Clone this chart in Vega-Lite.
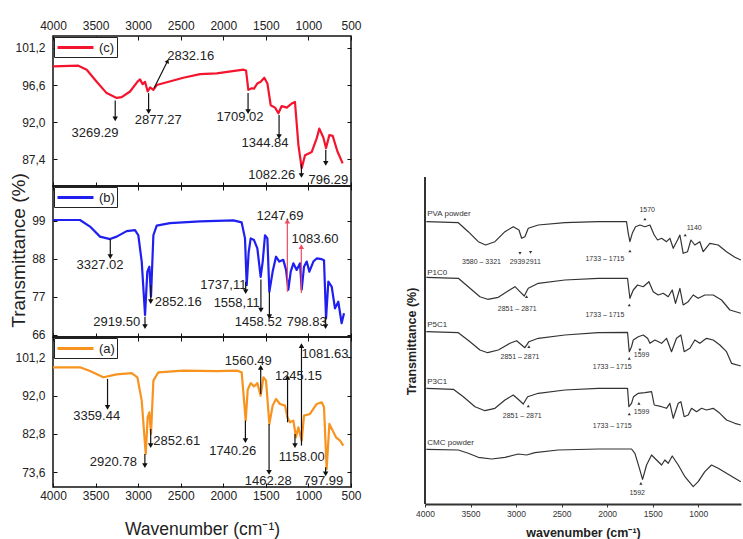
{
  "$schema": "https://vega.github.io/schema/vega-lite/v6.json",
  "padding": {"left": 8, "top": 18, "right": 0, "bottom": 0},
  "background": "white",
  "config": {
    "font": "Liberation Sans",
    "view": {"stroke": "#111", "strokeWidth": 1.5},
    "axis": {"grid": false, "labelFlush": false, "labelOverlap": false, "labelFont": "Liberation Sans", "titleFont": "Liberation Sans"}
  },
  "datasets": {
    "sp": [
      {"p":"c","wn":4000,"t":98.9},{"p":"c","wn":3702,"t":99.0},{"p":"c","wn":3604,"t":98.5},{"p":"c","wn":3487,"t":97.0},{"p":"c","wn":3370,"t":95.6},{"p":"c","wn":3252,"t":95.0},{"p":"c","wn":3193,"t":95.1},{"p":"c","wn":3095,"t":95.8},{"p":"c","wn":3009,"t":97.0},{"p":"c","wn":2978,"t":97.3},{"p":"c","wn":2947,"t":96.7},{"p":"c","wn":2919,"t":97.0},{"p":"c","wn":2888,"t":95.8},{"p":"c","wn":2860,"t":96.3},{"p":"c","wn":2821,"t":96.0},{"p":"c","wn":2782,"t":96.6},{"p":"c","wn":2469,"t":97.5},{"p":"c","wn":2273,"t":97.95},{"p":"c","wn":2077,"t":98.05},{"p":"c","wn":1764,"t":98.5},{"p":"c","wn":1733,"t":98.4},{"p":"c","wn":1706,"t":96.0},{"p":"c","wn":1666,"t":96.2},{"p":"c","wn":1639,"t":96.15},{"p":"c","wn":1600,"t":96.8},{"p":"c","wn":1561,"t":97.0},{"p":"c","wn":1518,"t":97.5},{"p":"c","wn":1482,"t":96.8},{"p":"c","wn":1443,"t":94.1},{"p":"c","wn":1392,"t":93.8},{"p":"c","wn":1353,"t":93.1},{"p":"c","wn":1314,"t":94.0},{"p":"c","wn":1255,"t":93.8},{"p":"c","wn":1197,"t":94.3},{"p":"c","wn":1158,"t":94.5},{"p":"c","wn":1118,"t":89.2},{"p":"c","wn":1079,"t":86.3},{"p":"c","wn":1040,"t":87.9},{"p":"c","wn":962,"t":88.3},{"p":"c","wn":903,"t":90.0},{"p":"c","wn":872,"t":91.2},{"p":"c","wn":825,"t":90.1},{"p":"c","wn":793,"t":88.8},{"p":"c","wn":754,"t":90.4},{"p":"c","wn":715,"t":90.3},{"p":"c","wn":660,"t":88.4},{"p":"c","wn":598,"t":86.9},
      {"p":"b","wn":4000,"t":99.2},{"p":"b","wn":3683,"t":99.2},{"p":"b","wn":3565,"t":97.3},{"p":"b","wn":3448,"t":94.4},{"p":"b","wn":3330,"t":93.7},{"p":"b","wn":3252,"t":94.4},{"p":"b","wn":3135,"t":96.0},{"p":"b","wn":3037,"t":96.3},{"p":"b","wn":2998,"t":94.8},{"p":"b","wn":2958,"t":87.2},{"p":"b","wn":2919,"t":71.8},{"p":"b","wn":2892,"t":84.3},{"p":"b","wn":2868,"t":85.7},{"p":"b","wn":2849,"t":77.1},{"p":"b","wn":2821,"t":94.8},{"p":"b","wn":2782,"t":97.6},{"p":"b","wn":2626,"t":98.3},{"p":"b","wn":2273,"t":98.8},{"p":"b","wn":1882,"t":99.1},{"p":"b","wn":1784,"t":98.5},{"p":"b","wn":1745,"t":93.9},{"p":"b","wn":1725,"t":80.4},{"p":"b","wn":1702,"t":89.9},{"p":"b","wn":1678,"t":93.9},{"p":"b","wn":1639,"t":93.4},{"p":"b","wn":1600,"t":91.0},{"p":"b","wn":1561,"t":82.8},{"p":"b","wn":1537,"t":87.2},{"p":"b","wn":1510,"t":94.8},{"p":"b","wn":1482,"t":93.9},{"p":"b","wn":1459,"t":78.5},{"p":"b","wn":1420,"t":84.3},{"p":"b","wn":1381,"t":88.6},{"p":"b","wn":1342,"t":87.2},{"p":"b","wn":1295,"t":87.7},{"p":"b","wn":1263,"t":84.8},{"p":"b","wn":1236,"t":79.1},{"p":"b","wn":1208,"t":84.3},{"p":"b","wn":1177,"t":86.7},{"p":"b","wn":1138,"t":84.8},{"p":"b","wn":1099,"t":86.7},{"p":"b","wn":1079,"t":79.1},{"p":"b","wn":1052,"t":85.7},{"p":"b","wn":1020,"t":87.2},{"p":"b","wn":989,"t":84.3},{"p":"b","wn":942,"t":87.2},{"p":"b","wn":903,"t":88.1},{"p":"b","wn":844,"t":87.9},{"p":"b","wn":817,"t":87.6},{"p":"b","wn":793,"t":70.8},{"p":"b","wn":766,"t":81.4},{"p":"b","wn":727,"t":80.0},{"p":"b","wn":688,"t":73.7},{"p":"b","wn":649,"t":75.6},{"p":"b","wn":610,"t":69.4},{"p":"b","wn":582,"t":72.3},
      {"p":"a","wn":4000,"t":98.8},{"p":"a","wn":3683,"t":98.8},{"p":"a","wn":3565,"t":97.9},{"p":"a","wn":3409,"t":96.4},{"p":"a","wn":3252,"t":97.1},{"p":"a","wn":3076,"t":97.4},{"p":"a","wn":3009,"t":96.4},{"p":"a","wn":2958,"t":90.8},{"p":"a","wn":2911,"t":78.0},{"p":"a","wn":2888,"t":86.8},{"p":"a","wn":2868,"t":88.0},{"p":"a","wn":2849,"t":82.8},{"p":"a","wn":2821,"t":95.6},{"p":"a","wn":2763,"t":97.6},{"p":"a","wn":2469,"t":98.0},{"p":"a","wn":2077,"t":97.9},{"p":"a","wn":1843,"t":98.0},{"p":"a","wn":1784,"t":97.6},{"p":"a","wn":1756,"t":90.8},{"p":"a","wn":1737,"t":86.0},{"p":"a","wn":1713,"t":93.4},{"p":"a","wn":1678,"t":95.0},{"p":"a","wn":1639,"t":94.2},{"p":"a","wn":1600,"t":95.0},{"p":"a","wn":1561,"t":92.0},{"p":"a","wn":1529,"t":96.4},{"p":"a","wn":1498,"t":95.6},{"p":"a","wn":1459,"t":85.2},{"p":"a","wn":1420,"t":89.6},{"p":"a","wn":1381,"t":91.2},{"p":"a","wn":1334,"t":90.0},{"p":"a","wn":1275,"t":89.6},{"p":"a","wn":1248,"t":86.8},{"p":"a","wn":1216,"t":85.6},{"p":"a","wn":1177,"t":86.0},{"p":"a","wn":1146,"t":82.0},{"p":"a","wn":1118,"t":84.4},{"p":"a","wn":1079,"t":81.2},{"p":"a","wn":1052,"t":87.2},{"p":"a","wn":981,"t":87.6},{"p":"a","wn":903,"t":90.0},{"p":"a","wn":844,"t":90.4},{"p":"a","wn":817,"t":89.2},{"p":"a","wn":786,"t":74.4},{"p":"a","wn":754,"t":85.2},{"p":"a","wn":715,"t":83.6},{"p":"a","wn":676,"t":82.0},{"p":"a","wn":629,"t":81.2},{"p":"a","wn":590,"t":80.0}
    ],
    "ann": [
      {"p":"c","x1":3269.29,"y1":94.7,"x2":3269.29,"y2":92.4,"d":"down","k":"n","lab":"3269.29","lx":3506,"ly":90.7},
      {"p":"c","x1":2877.27,"y1":95.6,"x2":2877.27,"y2":93.3,"d":"down","k":"n","lab":"2877.27","lx":2763,"ly":92.3},
      {"p":"c","x1":2814,"y1":96.2,"x2":2657,"y2":99.5,"d":"diag","k":"n","lab":"2832.16","lx":2383,"ly":100.2},
      {"p":"c","x1":1709.02,"y1":95.6,"x2":1709.02,"y2":93.3,"d":"down","k":"n","lab":"1709.02","lx":1803,"ly":92.7},
      {"p":"c","x1":1344.84,"y1":92.9,"x2":1344.84,"y2":90.2,"d":"down","k":"n","lab":"1344.84","lx":1510,"ly":89.4},
      {"p":"c","x1":1082.26,"y1":86.8,"x2":1082.26,"y2":85.4,"d":"down","k":"n","lab":"1082.26","lx":1431,"ly":85.5},
      {"p":"c","x1":796.29,"y1":88.6,"x2":796.29,"y2":86.9,"d":"down","k":"n","lab":"796.29","lx":766,"ly":84.8},
      {"p":"b","x1":3327.02,"y1":93.7,"x2":3327.02,"y2":88.6,"d":"down","k":"n","lab":"3327.02","lx":3448,"ly":86.2},
      {"p":"b","x1":2919.5,"y1":71.3,"x2":2919.5,"y2":68.4,"d":"down","k":"n","lab":"2919.50","lx":3252,"ly":69.7},
      {"p":"b","x1":2852.16,"y1":80.4,"x2":2852.16,"y2":75.6,"d":"down","k":"n","lab":"2852.16","lx":2528,"ly":75.4},
      {"p":"b","x1":1737.11,"y1":81.4,"x2":1737.11,"y2":78.5,"d":"down","k":"n","lab":"1737,11","lx":1999,"ly":80.4},
      {"p":"b","x1":1558.11,"y1":82.0,"x2":1558.11,"y2":73.2,"d":"down","k":"n","lab":"1558,11","lx":1843,"ly":75.1},
      {"p":"b","x1":1458.52,"y1":78.5,"x2":1458.52,"y2":71.3,"d":"down","k":"n","lab":"1458.52","lx":1588,"ly":69.8},
      {"p":"b","x1":798.83,"y1":71.3,"x2":798.83,"y2":68.4,"d":"down","k":"n","lab":"798.83","lx":1020,"ly":69.7},
      {"p":"b","x1":1247.69,"y1":78.5,"x2":1247.69,"y2":98.9,"d":"up","k":"r","lab":"1247.69","lx":1334,"ly":100.4},
      {"p":"b","x1":1083.6,"y1":78.1,"x2":1083.6,"y2":91.5,"d":"up","k":"r","lab":"1083.60","lx":923,"ly":93.7},
      {"p":"a","x1":3359.44,"y1":96.0,"x2":3359.44,"y2":89.2,"d":"down","k":"n","lab":"3359.44","lx":3487,"ly":87.2},
      {"p":"a","x1":2920.78,"y1":78.0,"x2":2920.78,"y2":75.2,"d":"down","k":"n","lab":"2920.78","lx":3291,"ly":76.0},
      {"p":"a","x1":2852.61,"y1":84.0,"x2":2852.61,"y2":80.0,"d":"down","k":"n","lab":"2852.61","lx":2547,"ly":81.2},
      {"p":"a","x1":1740.26,"y1":86.0,"x2":1740.26,"y2":81.2,"d":"down","k":"n","lab":"1740.26","lx":1890,"ly":78.8},
      {"p":"a","x1":1560.49,"y1":92.4,"x2":1560.49,"y2":98.8,"d":"up","k":"n","lab":"1560.49","lx":1706,"ly":100.4},
      {"p":"a","x1":1462.28,"y1":85.2,"x2":1462.28,"y2":73.6,"d":"down","k":"n","lab":"1462.28","lx":1471,"ly":71.6},
      {"p":"a","x1":1245.15,"y1":85.6,"x2":1245.15,"y2":96.4,"d":"up","k":"n","lab":"1245.15","lx":1118,"ly":96.6},
      {"p":"a","x1":1081.63,"y1":80.0,"x2":1081.63,"y2":104.0,"d":"up","k":"n","lab":"1081.63","lx":805,"ly":102.0},
      {"p":"a","x1":1158.0,"y1":82.8,"x2":1158.0,"y2":80.0,"d":"down","k":"n","lab":"1158.00","lx":1079,"ly":77.2},
      {"p":"a","x1":797.99,"y1":74.8,"x2":797.99,"y2":73.2,"d":"down","k":"n","lab":"797.99","lx":825,"ly":71.6}
    ],
    "rs": [
      {"s":"PVA","wn":3985,"y":283.3},{"s":"PVA","wn":3634,"y":282.3},{"s":"PVA","wn":3525,"y":273.3},{"s":"PVA","wn":3415,"y":263.3},{"s":"PVA","wn":3334,"y":260},{"s":"PVA","wn":3232,"y":263.3},{"s":"PVA","wn":3122,"y":273.3},{"s":"PVA","wn":3031,"y":278.3},{"s":"PVA","wn":2968,"y":275},{"s":"PVA","wn":2939,"y":266.7},{"s":"PVA","wn":2903,"y":268.3},{"s":"PVA","wn":2866,"y":276.7},{"s":"PVA","wn":2756,"y":280},{"s":"PVA","wn":2464,"y":282.3},{"s":"PVA","wn":2098,"y":283.3},{"s":"PVA","wn":1787,"y":283.3},{"s":"PVA","wn":1768,"y":271.7},{"s":"PVA","wn":1750,"y":263.3},{"s":"PVA","wn":1724,"y":271.7},{"s":"PVA","wn":1688,"y":278.3},{"s":"PVA","wn":1640,"y":280},{"s":"PVA","wn":1585,"y":278.3},{"s":"PVA","wn":1530,"y":280},{"s":"PVA","wn":1483,"y":270},{"s":"PVA","wn":1446,"y":265},{"s":"PVA","wn":1402,"y":266.7},{"s":"PVA","wn":1348,"y":263.3},{"s":"PVA","wn":1311,"y":266.7},{"s":"PVA","wn":1274,"y":256.7},{"s":"PVA","wn":1227,"y":265},{"s":"PVA","wn":1201,"y":270},{"s":"PVA","wn":1165,"y":251.7},{"s":"PVA","wn":1117,"y":253.3},{"s":"PVA","wn":1080,"y":265},{"s":"PVA","wn":1037,"y":260},{"s":"PVA","wn":982,"y":263.3},{"s":"PVA","wn":945,"y":253.3},{"s":"PVA","wn":872,"y":261.7},{"s":"PVA","wn":780,"y":260},{"s":"PVA","wn":689,"y":253.3},{"s":"PVA","wn":597,"y":247.7},{"s":"PVA","wn":532,"y":245},
      {"s":"P1C0","wn":3985,"y":227.7},{"s":"P1C0","wn":3634,"y":226.7},{"s":"P1C0","wn":3506,"y":216.7},{"s":"P1C0","wn":3397,"y":208.3},{"s":"P1C0","wn":3312,"y":205.7},{"s":"P1C0","wn":3195,"y":207.7},{"s":"P1C0","wn":3085,"y":214.3},{"s":"P1C0","wn":3012,"y":218.3},{"s":"P1C0","wn":2958,"y":213.3},{"s":"P1C0","wn":2910,"y":209},{"s":"P1C0","wn":2866,"y":216.7},{"s":"P1C0","wn":2756,"y":221.7},{"s":"P1C0","wn":2464,"y":225},{"s":"P1C0","wn":2098,"y":226.7},{"s":"P1C0","wn":1776,"y":226.7},{"s":"P1C0","wn":1750,"y":206.7},{"s":"P1C0","wn":1713,"y":215},{"s":"P1C0","wn":1666,"y":220},{"s":"P1C0","wn":1604,"y":218.3},{"s":"P1C0","wn":1541,"y":223.3},{"s":"P1C0","wn":1494,"y":213.3},{"s":"P1C0","wn":1439,"y":210},{"s":"P1C0","wn":1384,"y":211.7},{"s":"P1C0","wn":1329,"y":208.3},{"s":"P1C0","wn":1285,"y":215},{"s":"P1C0","wn":1249,"y":201.7},{"s":"P1C0","wn":1201,"y":216.7},{"s":"P1C0","wn":1165,"y":200},{"s":"P1C0","wn":1110,"y":203.3},{"s":"P1C0","wn":1055,"y":210},{"s":"P1C0","wn":1000,"y":206.7},{"s":"P1C0","wn":927,"y":210},{"s":"P1C0","wn":835,"y":210},{"s":"P1C0","wn":744,"y":205},{"s":"P1C0","wn":652,"y":195},{"s":"P1C0","wn":532,"y":191.7},
      {"s":"P5C1","wn":3985,"y":173.3},{"s":"P5C1","wn":3634,"y":172.3},{"s":"P5C1","wn":3506,"y":163.3},{"s":"P5C1","wn":3397,"y":155},{"s":"P5C1","wn":3312,"y":152.3},{"s":"P5C1","wn":3195,"y":155},{"s":"P5C1","wn":3067,"y":161.7},{"s":"P5C1","wn":2994,"y":164.3},{"s":"P5C1","wn":2939,"y":160},{"s":"P5C1","wn":2903,"y":157.3},{"s":"P5C1","wn":2859,"y":163.3},{"s":"P5C1","wn":2756,"y":166.7},{"s":"P5C1","wn":2464,"y":170},{"s":"P5C1","wn":2098,"y":172.3},{"s":"P5C1","wn":1776,"y":172.7},{"s":"P5C1","wn":1757,"y":153.3},{"s":"P5C1","wn":1732,"y":158.3},{"s":"P5C1","wn":1713,"y":165},{"s":"P5C1","wn":1658,"y":168.3},{"s":"P5C1","wn":1604,"y":170},{"s":"P5C1","wn":1556,"y":166.7},{"s":"P5C1","wn":1530,"y":161.7},{"s":"P5C1","wn":1476,"y":165},{"s":"P5C1","wn":1402,"y":161.7},{"s":"P5C1","wn":1348,"y":166.7},{"s":"P5C1","wn":1293,"y":153.3},{"s":"P5C1","wn":1238,"y":166.7},{"s":"P5C1","wn":1190,"y":170},{"s":"P5C1","wn":1154,"y":153.3},{"s":"P5C1","wn":1091,"y":156.7},{"s":"P5C1","wn":1037,"y":165},{"s":"P5C1","wn":982,"y":161.7},{"s":"P5C1","wn":909,"y":166.7},{"s":"P5C1","wn":835,"y":165},{"s":"P5C1","wn":762,"y":160},{"s":"P5C1","wn":689,"y":153.3},{"s":"P5C1","wn":634,"y":141.7},{"s":"P5C1","wn":532,"y":139},
      {"s":"P3C1","wn":3985,"y":116.7},{"s":"P3C1","wn":3689,"y":115.7},{"s":"P3C1","wn":3579,"y":108.3},{"s":"P3C1","wn":3451,"y":98.3},{"s":"P3C1","wn":3342,"y":94.3},{"s":"P3C1","wn":3232,"y":96.7},{"s":"P3C1","wn":3122,"y":105},{"s":"P3C1","wn":3031,"y":110},{"s":"P3C1","wn":2968,"y":105},{"s":"P3C1","wn":2921,"y":101},{"s":"P3C1","wn":2873,"y":108.3},{"s":"P3C1","wn":2756,"y":111.7},{"s":"P3C1","wn":2464,"y":115},{"s":"P3C1","wn":2098,"y":116.7},{"s":"P3C1","wn":1776,"y":116.7},{"s":"P3C1","wn":1761,"y":98.3},{"s":"P3C1","wn":1732,"y":101.7},{"s":"P3C1","wn":1710,"y":108.3},{"s":"P3C1","wn":1658,"y":111.7},{"s":"P3C1","wn":1585,"y":112.3},{"s":"P3C1","wn":1512,"y":113.3},{"s":"P3C1","wn":1483,"y":100},{"s":"P3C1","wn":1402,"y":98.3},{"s":"P3C1","wn":1348,"y":96.7},{"s":"P3C1","wn":1311,"y":101.7},{"s":"P3C1","wn":1274,"y":86.7},{"s":"P3C1","wn":1219,"y":101.7},{"s":"P3C1","wn":1190,"y":103.3},{"s":"P3C1","wn":1154,"y":88.3},{"s":"P3C1","wn":1110,"y":90},{"s":"P3C1","wn":1073,"y":96.7},{"s":"P3C1","wn":1018,"y":93.3},{"s":"P3C1","wn":963,"y":96.7},{"s":"P3C1","wn":909,"y":95},{"s":"P3C1","wn":835,"y":96.7},{"s":"P3C1","wn":762,"y":91.7},{"s":"P3C1","wn":689,"y":85},{"s":"P3C1","wn":597,"y":81.7},{"s":"P3C1","wn":532,"y":80},
      {"s":"CMC","wn":3985,"y":55.7},{"s":"CMC","wn":3634,"y":55},{"s":"CMC","wn":3525,"y":51.7},{"s":"CMC","wn":3415,"y":47.7},{"s":"CMC","wn":3268,"y":46},{"s":"CMC","wn":3122,"y":47.7},{"s":"CMC","wn":2976,"y":51},{"s":"CMC","wn":2884,"y":50},{"s":"CMC","wn":2793,"y":52.3},{"s":"CMC","wn":2537,"y":55},{"s":"CMC","wn":2098,"y":56},{"s":"CMC","wn":1732,"y":56},{"s":"CMC","wn":1695,"y":51.7},{"s":"CMC","wn":1651,"y":38.3},{"s":"CMC","wn":1611,"y":25.7},{"s":"CMC","wn":1567,"y":40},{"s":"CMC","wn":1512,"y":50},{"s":"CMC","wn":1457,"y":45},{"s":"CMC","wn":1402,"y":40},{"s":"CMC","wn":1366,"y":45},{"s":"CMC","wn":1329,"y":41.7},{"s":"CMC","wn":1285,"y":49},{"s":"CMC","wn":1219,"y":40},{"s":"CMC","wn":1146,"y":28.3},{"s":"CMC","wn":1055,"y":18.3},{"s":"CMC","wn":1000,"y":23.3},{"s":"CMC","wn":927,"y":33.3},{"s":"CMC","wn":854,"y":40},{"s":"CMC","wn":780,"y":36.7},{"s":"CMC","wn":689,"y":31.7},{"s":"CMC","wn":597,"y":26.7},{"s":"CMC","wn":532,"y":23.3}
    ],
    "rl": [
      {"t":"name","lab":"PVA powder","wn":3975,"y":291},
      {"t":"name","lab":"P1C0","wn":3975,"y":232},
      {"t":"name","lab":"P5C1","wn":3975,"y":180},
      {"t":"name","lab":"P3C1","wn":3975,"y":123},
      {"t":"name","lab":"CMC powder","wn":3975,"y":62},
      {"t":"peak","lab":"3580 – 3321","wn":3380,"y":243},
      {"t":"peak","lab":"2939","wn":2985,"y":243},
      {"t":"peak","lab":"2911","wn":2810,"y":243},
      {"t":"peak","lab":"1733 – 1715","wn":2024,"y":245.7},
      {"t":"peak","lab":"1570","wn":1560,"y":295},
      {"t":"peak","lab":"1140","wn":1044,"y":277},
      {"t":"peak","lab":"2851 – 2871","wn":2987,"y":195.7},
      {"t":"peak","lab":"1733 – 1715","wn":2024,"y":190},
      {"t":"peak","lab":"2851 – 2871","wn":2957,"y":148.3},
      {"t":"peak","lab":"1599","wn":1622,"y":150},
      {"t":"peak","lab":"1733 – 1715","wn":1944,"y":138.3},
      {"t":"peak","lab":"2851 – 2871","wn":2932,"y":89},
      {"t":"peak","lab":"1599","wn":1622,"y":93.3},
      {"t":"peak","lab":"1733 – 1715","wn":1944,"y":79},
      {"t":"peak","lab":"1592","wn":1670,"y":12.3}
    ],
    "rm": [
      {"wn":2957,"y":251.7,"d":"down"},{"wn":2841,"y":252.7,"d":"down"},{"wn":1750,"y":254,"d":"up"},{"wn":1585,"y":286,"d":"up"},{"wn":1143,"y":270,"d":"up"},
      {"wn":2885,"y":208.3,"d":"up"},{"wn":1757,"y":200,"d":"up"},
      {"wn":2859,"y":158.3,"d":"up"},{"wn":1640,"y":155,"d":"down"},{"wn":1757,"y":146.7,"d":"up"},
      {"wn":2866,"y":99,"d":"up"},{"wn":1651,"y":101.7,"d":"up"},{"wn":1757,"y":91,"d":"up"},
      {"wn":1629,"y":21.7,"d":"up"}
    ]
  },
  "hconcat": [
    {
      "vconcat": [
        {
          "width": 298, "height": 150,
          "resolve": {"axis": {"x": "independent", "y": "independent"}},
          "layer": [
            {
              "data": {"name": "sp"},
              "transform": [{"filter": "datum.p === 'c'"}],
              "mark": {"type": "line", "strokeWidth": 2.2, "strokeJoin": "round"},
              "encoding": {
                "x": {"field": "wn", "type": "quantitative", "scale": {"domain": [4000, 500], "nice": false, "zero": false},
                  "axis": {"orient": "top", "values": [4000,3500,3000,2500,2000,1500,1000,500], "format": "d", "tickSize": -4, "tickColor": "#111", "labelPadding": 8, "labelFontSize": 12, "labelColor": "#222", "domain": false, "title": null}},
                "y": {"field": "t", "type": "quantitative", "scale": {"domain": [84.1, 102.67], "nice": false, "zero": false},
                  "axis": {"orient": "left", "values": [87.4, 92, 96.6, 101.2], "labelExpr": "replace(format(datum.value, '.1f'), '.', ',')", "tickSize": -4, "tickColor": "#111", "labelPadding": 12, "labelFontSize": 12, "labelColor": "#222", "domain": false, "title": null}},
                "color": {"field": "p", "type": "nominal", "scale": {"range": ["#f5142d"]},
                  "legend": {"orient": "top-left", "offset": 1, "title": null, "labelExpr": "'(' + datum.label + ')'", "symbolType": "M-1,0H4.14", "symbolSize": 196, "symbolStrokeWidth": 3, "labelFontSize": 13, "labelColor": "#222", "labelOffset": 26, "strokeColor": "#222", "fillColor": "white", "padding": 2}}
              }
            },
            {
              "data": {"name": "ann"},
              "transform": [{"filter": "datum.p === 'c'"}],
              "mark": {"type": "rule", "strokeWidth": 1.2},
              "encoding": {
                "x": {"field": "x1", "type": "quantitative", "axis": {"orient": "bottom", "values": [4000,3500,3000,2500,2000,1500,1000,500], "labels": false, "tickSize": -4, "tickColor": "#111", "domain": false, "title": null}},
                "y": {"field": "y1", "type": "quantitative", "axis": {"orient": "right", "values": [87.4, 92, 96.6, 101.2], "labels": false, "tickSize": -4, "tickColor": "#111", "domain": false, "title": null}},
                "x2": {"field": "x2"}, "y2": {"field": "y2"},
                "stroke": {"field": "k", "type": "nominal", "scale": {"domain": ["n", "r"], "range": ["#111", "#f04a60"]}, "legend": null}
              }
            },
            {
              "data": {"name": "ann"},
              "transform": [{"filter": "datum.p === 'c'"}],
              "mark": {"type": "point", "filled": true, "size": 30, "opacity": 1},
              "encoding": {
                "x": {"field": "x2", "type": "quantitative", "axis": null},
                "y": {"field": "y2", "type": "quantitative", "axis": null},
                "shape": {"field": "d", "type": "nominal", "scale": {"domain": ["up", "down", "diag"], "range": ["triangle-up", "triangle-down", "M0.454,-0.891L0.545,0.839L-0.999,0.053Z"]}, "legend": null},
                "fill": {"field": "k", "type": "nominal", "scale": {"domain": ["n", "r"], "range": ["#111", "#f04a60"]}, "legend": null}
              }
            },
            {
              "data": {"name": "ann"},
              "transform": [{"filter": "datum.p === 'c'"}],
              "mark": {"type": "text", "fontSize": 13, "color": "#222", "align": "center", "baseline": "middle"},
              "encoding": {
                "x": {"field": "lx", "type": "quantitative", "axis": null},
                "y": {"field": "ly", "type": "quantitative", "axis": null},
                "text": {"field": "lab"}
              }
            }
          ]
        },
        {
          "width": 298, "height": 151,
          "resolve": {"axis": {"x": "independent", "y": "independent"}},
          "layer": [
            {
              "data": {"name": "sp"},
              "transform": [{"filter": "datum.p === 'b'"}],
              "mark": {"type": "line", "strokeWidth": 2.2, "strokeJoin": "round"},
              "encoding": {
                "x": {"field": "wn", "type": "quantitative", "scale": {"domain": [4000, 500], "nice": false, "zero": false},
                  "axis": {"orient": "top", "values": [4000,3500,3000,2500,2000,1500,1000,500], "labels": false, "tickSize": -4, "tickColor": "#111", "domain": false, "title": null}},
                "y": {"field": "t", "type": "quantitative", "scale": {"domain": [65.42, 109.02], "nice": false, "zero": false},
                  "axis": {"orient": "left", "values": [66, 77, 88, 99], "tickSize": -4, "tickColor": "#111", "labelPadding": 12, "labelFontSize": 12, "labelColor": "#222", "domain": false,
                    "title": "Transmittance (%)", "titleFontSize": 19, "titleFontWeight": "normal", "titleColor": "#222", "titleX": -35, "titleY": 64, "titleBaseline": "middle", "titleAngle": -90}},
                "color": {"field": "p", "type": "nominal", "scale": {"range": ["#1f1ff0"]},
                  "legend": {"orient": "top-left", "offset": 1, "title": null, "labelExpr": "'(' + datum.label + ')'", "symbolType": "M-1,0H4.14", "symbolSize": 196, "symbolStrokeWidth": 3, "labelFontSize": 13, "labelColor": "#222", "labelOffset": 26, "strokeColor": "#222", "fillColor": "white", "padding": 2}}
              }
            },
            {
              "data": {"name": "ann"},
              "transform": [{"filter": "datum.p === 'b'"}],
              "mark": {"type": "rule", "strokeWidth": 1.2},
              "encoding": {
                "x": {"field": "x1", "type": "quantitative", "axis": {"orient": "bottom", "values": [4000,3500,3000,2500,2000,1500,1000,500], "labels": false, "tickSize": -4, "tickColor": "#111", "domain": false, "title": null}},
                "y": {"field": "y1", "type": "quantitative", "axis": {"orient": "right", "values": [66, 77, 88, 99], "labels": false, "tickSize": -4, "tickColor": "#111", "domain": false, "title": null}},
                "x2": {"field": "x2"}, "y2": {"field": "y2"},
                "stroke": {"field": "k", "type": "nominal", "scale": {"domain": ["n", "r"], "range": ["#111", "#f04a60"]}, "legend": null}
              }
            },
            {
              "data": {"name": "ann"},
              "transform": [{"filter": "datum.p === 'b'"}],
              "mark": {"type": "point", "filled": true, "size": 30, "opacity": 1},
              "encoding": {
                "x": {"field": "x2", "type": "quantitative", "axis": null},
                "y": {"field": "y2", "type": "quantitative", "axis": null},
                "shape": {"field": "d", "type": "nominal", "scale": {"domain": ["up", "down", "diag"], "range": ["triangle-up", "triangle-down", "M0.454,-0.891L0.545,0.839L-0.999,0.053Z"]}, "legend": null},
                "fill": {"field": "k", "type": "nominal", "scale": {"domain": ["n", "r"], "range": ["#111", "#f04a60"]}, "legend": null}
              }
            },
            {
              "data": {"name": "ann"},
              "transform": [{"filter": "datum.p === 'b'"}],
              "mark": {"type": "text", "fontSize": 13, "color": "#222", "align": "center", "baseline": "middle"},
              "encoding": {
                "x": {"field": "lx", "type": "quantitative", "axis": null},
                "y": {"field": "ly", "type": "quantitative", "axis": null},
                "text": {"field": "lab"}
              }
            }
          ]
        },
        {
          "width": 298, "height": 150,
          "resolve": {"axis": {"x": "independent", "y": "independent"}},
          "layer": [
            {
              "data": {"name": "sp"},
              "transform": [{"filter": "datum.p === 'a'"}],
              "mark": {"type": "line", "strokeWidth": 2.2, "strokeJoin": "round"},
              "encoding": {
                "x": {"field": "wn", "type": "quantitative", "scale": {"domain": [4000, 500], "nice": false, "zero": false},
                  "axis": {"orient": "bottom", "values": [4000,3500,3000,2500,2000,1500,1000,500], "format": "d", "tickSize": -4, "tickColor": "#111", "labelPadding": 7, "labelFontSize": 12, "labelColor": "#222", "domain": false,
                    "title": "Wavenumber (cm⁻¹)", "titleFontSize": 17.5, "titleFontWeight": "normal", "titleColor": "#222", "titleY": 42, "titleBaseline": "middle"}},
                "y": {"field": "t", "type": "quantitative", "scale": {"domain": [70.07, 106.07], "nice": false, "zero": false},
                  "axis": {"orient": "left", "values": [73.6, 82.8, 92, 101.2], "labelExpr": "replace(format(datum.value, '.1f'), '.', ',')", "tickSize": -4, "tickColor": "#111", "labelPadding": 12, "labelFontSize": 12, "labelColor": "#222", "domain": false, "title": null}},
                "color": {"field": "p", "type": "nominal", "scale": {"range": ["#f7931e"]},
                  "legend": {"orient": "top-left", "offset": 1, "title": null, "labelExpr": "'(' + datum.label + ')'", "symbolType": "M-1,0H4.14", "symbolSize": 196, "symbolStrokeWidth": 3, "labelFontSize": 13, "labelColor": "#222", "labelOffset": 26, "strokeColor": "#222", "fillColor": "white", "padding": 2}}
              }
            },
            {
              "data": {"name": "ann"},
              "transform": [{"filter": "datum.p === 'a'"}],
              "mark": {"type": "rule", "strokeWidth": 1.2},
              "encoding": {
                "x": {"field": "x1", "type": "quantitative", "axis": {"orient": "top", "values": [4000,3500,3000,2500,2000,1500,1000,500], "labels": false, "tickSize": -4, "tickColor": "#111", "domain": false, "title": null}},
                "y": {"field": "y1", "type": "quantitative", "axis": {"orient": "right", "values": [73.6, 82.8, 92, 101.2], "labels": false, "tickSize": -4, "tickColor": "#111", "domain": false, "title": null}},
                "x2": {"field": "x2"}, "y2": {"field": "y2"},
                "stroke": {"field": "k", "type": "nominal", "scale": {"domain": ["n", "r"], "range": ["#111", "#f04a60"]}, "legend": null}
              }
            },
            {
              "data": {"name": "ann"},
              "transform": [{"filter": "datum.p === 'a'"}],
              "mark": {"type": "point", "filled": true, "size": 30, "opacity": 1},
              "encoding": {
                "x": {"field": "x2", "type": "quantitative", "axis": null},
                "y": {"field": "y2", "type": "quantitative", "axis": null},
                "shape": {"field": "d", "type": "nominal", "scale": {"domain": ["up", "down", "diag"], "range": ["triangle-up", "triangle-down", "M0.454,-0.891L0.545,0.839L-0.999,0.053Z"]}, "legend": null},
                "fill": {"field": "k", "type": "nominal", "scale": {"domain": ["n", "r"], "range": ["#111", "#f04a60"]}, "legend": null}
              }
            },
            {
              "data": {"name": "ann"},
              "transform": [{"filter": "datum.p === 'a'"}],
              "mark": {"type": "text", "fontSize": 13, "color": "#222", "align": "center", "baseline": "middle"},
              "encoding": {
                "x": {"field": "lx", "type": "quantitative", "axis": null},
                "y": {"field": "ly", "type": "quantitative", "axis": null},
                "text": {"field": "lab"}
              }
            }
          ]
        }
      ],
      "spacing": 0,
      "bounds": "flush",
      "resolve": {"scale": {"color": "independent"}, "legend": {"color": "independent"}}
    },
    {
      "width": 316, "height": 468,
      "view": {"stroke": null},
      "layer": [
        {
          "data": {"name": "rs"},
          "mark": {"type": "line", "stroke": "#333", "strokeWidth": 1.2, "strokeJoin": "round"},
          "encoding": {
            "x": {"field": "wn", "type": "quantitative", "scale": {"domain": [4000, 530], "nice": false, "zero": false},
              "axis": {"orient": "bottom", "values": [4000,3500,3000,2500,2000,1500,1000], "format": "d", "tickSize": 3, "tickColor": "#333", "labelPadding": 2, "labelFontSize": 8.5, "labelColor": "#333", "domainColor": "#333", "domainWidth": 2,
                "title": "wavenumber (cm⁻¹)", "titleFontSize": 12.5, "titleFontWeight": "bold", "titleColor": "#222", "titleY": 28, "titleBaseline": "middle"}},
            "y": {"field": "y", "type": "quantitative", "scale": {"domain": [1, 469], "nice": false, "zero": false},
              "axis": {"orient": "left", "domain": false, "ticks": false, "labels": false, "title": "Transmittance (%)", "titleFontSize": 12.5, "titleFontWeight": "bold", "titleColor": "#222", "titleX": -14, "titleY": 305, "titleBaseline": "middle", "titleAngle": -90}},
            "detail": {"field": "s", "type": "nominal"}
          }
        },
        {
          "data": {"values": [{}]},
          "mark": {"type": "rule", "stroke": "#333", "strokeWidth": 2},
          "encoding": {
            "x": {"datum": 4000},
            "y": {"datum": 1},
            "y2": {"datum": 328}
          }
        },
        {
          "data": {"name": "rl"},
          "transform": [{"filter": "datum.t === 'name'"}],
          "mark": {"type": "text", "fontSize": 8, "color": "#333", "align": "left", "baseline": "middle"},
          "encoding": {
            "x": {"field": "wn", "type": "quantitative"},
            "y": {"field": "y", "type": "quantitative"},
            "text": {"field": "lab"}
          }
        },
        {
          "data": {"name": "rl"},
          "transform": [{"filter": "datum.t === 'peak'"}],
          "mark": {"type": "text", "fontSize": 7, "color": "#333", "align": "center", "baseline": "middle"},
          "encoding": {
            "x": {"field": "wn", "type": "quantitative"},
            "y": {"field": "y", "type": "quantitative"},
            "text": {"field": "lab"}
          }
        },
        {
          "data": {"name": "rm"},
          "mark": {"type": "point", "filled": true, "size": 10, "color": "#333", "opacity": 1},
          "encoding": {
            "x": {"field": "wn", "type": "quantitative"},
            "y": {"field": "y", "type": "quantitative"},
            "shape": {"field": "d", "type": "nominal", "scale": {"domain": ["up", "down"], "range": ["triangle-up", "triangle-down"]}, "legend": null}
          }
        }
      ]
    }
  ],
  "spacing": 43
}
